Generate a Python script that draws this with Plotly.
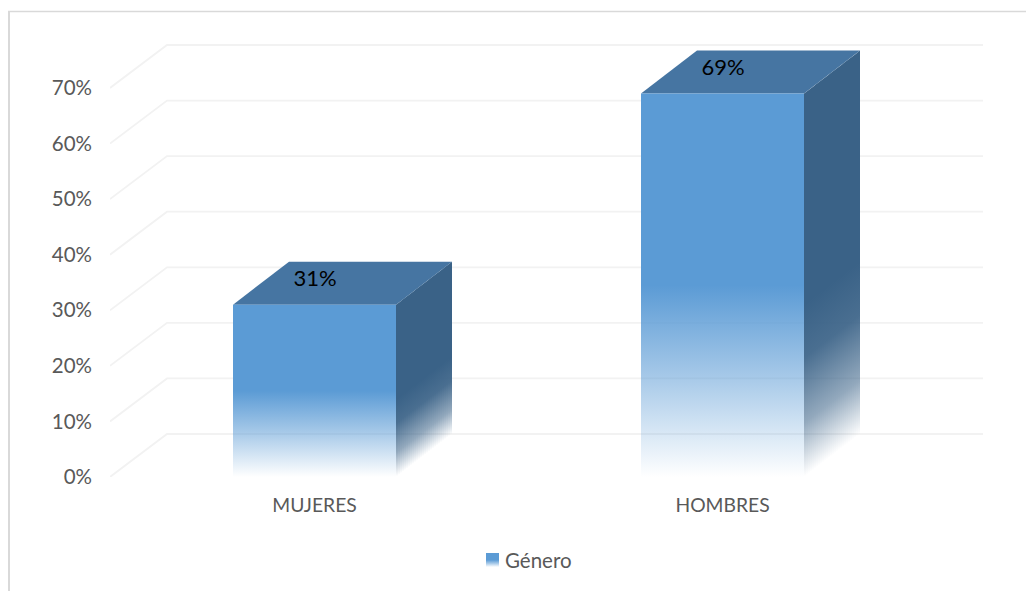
import plotly.graph_objects as go

# ---- data ----
categories = ["MUJERES", "HOMBRES"]
values = [31, 69]
value_labels = ["31%", "69%"]
y_ticks = [0, 10, 20, 30, 40, 50, 60, 70]
y_tick_labels = ["0%", "10%", "20%", "30%", "40%", "50%", "60%", "70%"]
series_name = "Género"

# ---- style ----
FONT = "Lato"
FRONT = "91,155,213"
SIDE = "58,98,135"
TOP = "#4675A2"
GRID = "#F2F2F2"
TEXT = "#595959"

W, H = 1026, 591
L, R, T, B = 110, 983, 40, 477      # plot box in the page
PX_X = 408.0                        # px per category
PX_Y = (477 - 88) / 70.0            # px per percent
C0 = 314.5                          # page x of first category
BAR_W = 163 / PX_X
DX = 56 / PX_X                      # oblique depth
DY = 43 / PX_Y
xmin = (L - C0) / PX_X
xmax = (R - C0) / PX_X
ymax = (B - T) / PX_Y
xs = list(range(len(categories)))

def front_fade(rgb):
    return [[0, f"rgba({rgb},0)"], [0.25, f"rgba({rgb},0.52)"], [0.5, f"rgba({rgb},1)"], [1, f"rgba({rgb},1)"]]

def side_fade(rgb):
    return [[0, f"rgba({rgb},0)"], [0.14, f"rgba({rgb},0.55)"], [0.31, f"rgba({rgb},0.92)"],
            [0.45, f"rgba({rgb},1)"], [1, f"rgba({rgb},1)"]]

fig = go.Figure()

# gridlines: oblique floor segment + back wall line, for every tick
for v in y_ticks:
    fig.add_trace(go.Scatter(
        x=[xmin, xmin + 57 / PX_X, xmax], y=[v, v + DY, v + DY],
        mode="lines", line=dict(color=GRID, width=1.8),
        hoverinfo="skip", showlegend=False, cliponaxis=False))

N = 28
for xc, v, lab in zip(xs, values, value_labels):
    x0, x1 = xc - BAR_W / 2, xc + BAR_W / 2
    # right face as thin strips, so the fade follows the slanted base
    for i in range(N):
        a, b = i / N, (i + 1) / N
        fig.add_trace(go.Scatter(
            x=[x1 + a * DX, x1 + b * DX, x1 + b * DX, x1 + a * DX, x1 + a * DX],
            y=[a * DY, b * DY, v + b * DY, v + a * DY, a * DY],
            mode="lines", line=dict(width=0), fill="toself",
            fillgradient=dict(type="vertical", colorscale=side_fade(SIDE),
                              start=(a + b) / 2 * DY, stop=v + (a + b) / 2 * DY),
            hoverinfo="skip", showlegend=False))
    # top face
    fig.add_trace(go.Scatter(
        x=[x0, x1, x1 + DX, x0 + DX, x0], y=[v, v, v + DY, v + DY, v],
        mode="lines", line=dict(width=0), fill="toself", fillcolor=TOP,
        hoverinfo="skip", showlegend=False))
    # front face
    fig.add_trace(go.Scatter(
        x=[x0, x1, x1, x0, x0], y=[0, 0, v, v, 0],
        mode="lines", line=dict(width=0), fill="toself",
        fillgradient=dict(type="vertical", colorscale=front_fade(FRONT), start=0, stop=v),
        hoverinfo="skip", showlegend=False, name=categories[xc]))
    # value label
    fig.add_trace(go.Scatter(
        x=[xc + 0.5 / PX_X], y=[v + 24 / PX_Y], mode="text", text=[lab],
        textposition="middle center",
        textfont=dict(family=FONT, size=22, color="#000000"),
        hoverinfo="skip", showlegend=False, cliponaxis=False))

# legend swatch in its own tiny axes, text beside it
fig.add_trace(go.Scatter(
    x=[0, 1, 1, 0, 0], y=[0, 0, 1, 1, 0], xaxis="x2", yaxis="y2",
    mode="lines", line=dict(width=0), fill="toself",
    fillgradient=dict(type="vertical", colorscale=front_fade(FRONT), start=0, stop=1),
    hoverinfo="skip", showlegend=False, name=series_name))

fig.add_annotation(text=series_name, xref="paper", yref="paper",
                   x=502.5 / W, y=1 - 560 / H,
                   xanchor="left", yanchor="middle", showarrow=False,
                   font=dict(family=FONT, size=20.5, color=TEXT))

# chart frame: left and top edges (the others fall outside the crop)
fig.add_shape(type="line", xref="paper", yref="paper", layer="below",
              x0=9 / W, x1=9 / W, y0=0, y1=1 - 11 / H,
              line=dict(color="#D9D9D9", width=2))
fig.add_shape(type="line", xref="paper", yref="paper", layer="below",
              x0=8 / W, x1=1, y0=1 - 11.5 / H, y1=1 - 11.5 / H,
              line=dict(color="#D9D9D9", width=1.5))

hidden = dict(showgrid=False, zeroline=False, showline=False, ticks="",
              showticklabels=False, fixedrange=True, automargin=False)

fig.update_layout(
    width=W, height=H, autosize=False,
    margin=dict(l=0, r=0, t=0, b=0, pad=0),
    paper_bgcolor="#FFFFFF", plot_bgcolor="rgba(0,0,0,0)",
    showlegend=False,
    font=dict(family=FONT, color=TEXT, size=19),
    xaxis=dict(domain=[L / W, R / W], range=[xmin, xmax], tickvals=xs, ticktext=categories,
               showgrid=False, zeroline=False, showline=False, ticks="", automargin=False,
               ticklabelstandoff=15, tickfont=dict(family=FONT, size=19.3, color=TEXT)),
    yaxis=dict(domain=[1 - B / H, 1 - T / H], range=[0, ymax], tickvals=y_ticks, ticktext=y_tick_labels,
               showgrid=False, zeroline=False, showline=False, ticks="", automargin=False,
               ticklabelstandoff=17, tickfont=dict(family=FONT, size=20.5, color=TEXT)),
    xaxis2=dict(domain=[486 / W, 499 / W], range=[0, 1], anchor="y2", **hidden),
    yaxis2=dict(domain=[1 - 567 / H, 1 - 553 / H], range=[0, 1], anchor="x2", **hidden),
)

fig.write_html("out.html", config={"displayModeBar": False},
               post_script="document.body.style.margin='0';document.body.style.overflow='hidden';")
